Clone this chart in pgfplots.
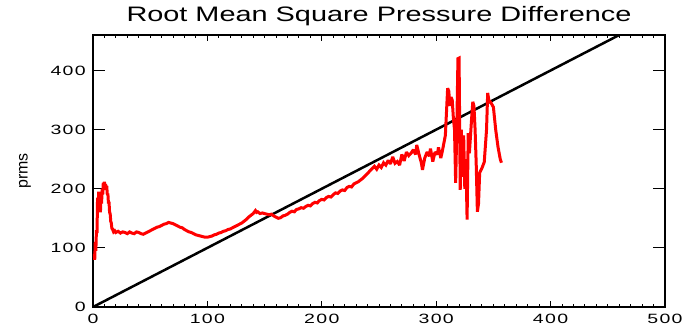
\documentclass[border=0pt]{standalone}
\usepackage{fontspec}
\setmainfont{Liberation Sans}
\newfontfamily\titlefont{Liberation Sans}[FakeStretch=1.38]
\newfontfamily\tickfont{Liberation Sans}[FakeStretch=1.45,LetterSpace=10]
\usepackage{pgfplots}
\usepackage{pgfplotstable}
\pgfplotsset{compat=1.18}
\usetikzlibrary{calc}

% rms pressure difference against its reference value
\pgfplotstableread{
x y
1 90
1.5 80
2 110
2.5 95
3 130
3.5 125
4 185
4.5 160
5 195
5.5 170
6 190
6.5 160
7 195
7.5 175
8 200
8.5 190
9 210
9.5 200
10 212
10.5 198
11 208
11.5 200
12 205
12.5 190
13 192
13.5 175
14 178
14.5 160
15 158
15.5 145
16 142
16.5 133
17 132
18 127
19 129
20 126
22 128
24 125
26 127
28 126
30 124
32 127
34 125
36 124
38 127
40 126
42 124
44 123
46 125
48 127
50 129
52 131
54 133
56 135
58 136
60 138
62 140
64 141
66 143
68 142
70 141
72 139
74 137
76 135
78 134
80 131
82 129
84 127
86 126
88 124
90 122
92 121
94 120
96 119
98 118
100 118
102 119
104 120
106 122
108 123
110 125
112 126
114 128
116 129
118 131
120 132
122 134
124 136
126 138
128 140
130 142
132 145
134 148
136 152
138 155
140 158
142 163
143 160
144 161
146 158
148 159
150 158
152 157
154 156
156 157
158 154
160 152
162 150
164 151
166 154
168 155
170 157
172 160
174 162
176 161
178 165
180 166
182 168
184 167
186 170
188 172
190 171
192 175
194 177
196 176
198 180
200 182
202 181
204 185
206 187
208 186
210 190
212 193
214 192
216 196
218 198
220 197
222 202
224 204
226 203
228 208
230 210
232 212
234 215
236 218
238 222
240 226
242 230
244 234
246 238
248 233
250 240
252 236
254 244
256 240
258 248
260 242
262 254
264 243
266 246
268 240
270 258
272 247
274 262
276 256
278 260
280 266
282 258
283 274
285 258
287 244
288 232
290 252
292 262
294 255
295 268
297 246
299 262
301 258
302 270
304 252
305 260
307 280
308 290
309 330
310 370
311 365
312 340
313 355
314 350
315 320
316 300
317 210
318 300
319 420
320 421
321 198
322 300
323 220
324 290
325 200
326 250
327 148
328 294
329 260
330 290
331 320
332 347
333 340
334 300
335 240
336 161
337 175
338 227
340 235
342 245
344 300
345 362
346 350
348 345
350 338
352 300
354 271
356 250
357 244
}\prmsdata

\begin{document}
\begin{tikzpicture}
\begin{axis}[
  name=ax,
  scale only axis,
  width=572bp, height=272bp,
  xmin=0, xmax=500, ymin=0, ymax=460,
  xtick={0,100,...,500},
  ytick={0,100,...,400},
  minor x tick num=9,
  tick align=inside,
  xtick style={/pgfplots/major tick length=6bp,/pgfplots/minor tick length=3bp,line width=1bp,black},
  ytick style={/pgfplots/major tick length=12bp,line width=1bp,black},
  axis line style={line width=2bp},
  /pgf/number format/assume math mode=true,
  tick label style={font=\tickfont\fontsize{13.5}{14}\selectfont},
  xticklabel style={inner sep=0pt, yshift=-7bp},
  yticklabel style={inner sep=0pt, xshift=-7bp},
  title={Root Mean Square Pressure Difference},
  title style={font=\titlefont\fontsize{21}{24}\selectfont, at={(rel axis cs:0.5,1)}, anchor=base, yshift=8bp},
  ylabel={prms},
  ylabel style={font=\rmfamily\fontsize{16}{18}\selectfont, at={(rel axis cs:0,0.5)}, anchor=center, rotate=0, yshift=68bp},
  clip=true,
]
\addplot[black, line width=2.5bp] coordinates {(0,0) (460,460)};
\addplot[red, line width=3bp, line join=miter, miter limit=2] table[x=x,y=y] {\prmsdata};
\end{axis}
\pgfresetboundingbox
\path[use as bounding box] ($(ax.south west)+(-93bp,-24bp)$) rectangle ($(ax.north east)+(20bp,35bp)$);
\end{tikzpicture}
\end{document}
